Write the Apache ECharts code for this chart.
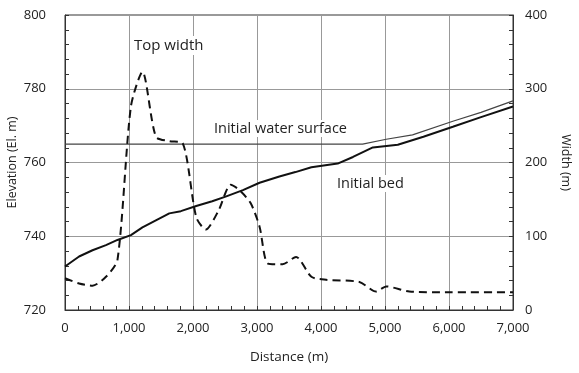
<!DOCTYPE html>
<html>
<head>
<meta charset="utf-8">
<script src="https://cdn.jsdelivr.net/npm/echarts@6/dist/echarts.min.js"></script>
<style>
  html, body { margin: 0; padding: 0; background: #fff; }
  #chart { width: 579px; height: 373px; }
</style>
</head>
<body>
<div id="chart"></div>
<script>
// initial bed profile
var bedDist = [0, 220, 430, 640, 820, 1030, 1210, 1420, 1630, 1810, 2050, 2300, 2520, 2780, 3040, 3350, 3600, 3850, 4260, 4500, 4810, 5200, 5600, 6060, 6500, 7000]
var bedElev = [731.8, 734.5, 736.2, 737.6, 739.0, 740.3, 742.4, 744.3, 746.2, 746.8, 748.2, 749.5, 750.8, 752.5, 754.5, 756.2, 757.4, 758.7, 759.7, 761.5, 764.1, 764.8, 767.0, 769.7, 772.3, 775.2]

// initial water surface
var wsDist = [0, 4650, 5020, 5430, 6060, 6500, 7000]
var wsElev = [765, 765, 766.3, 767.5, 771.2, 773.6, 776.7]

// top width (right axis)
var widthDist = [0, 220, 430, 640, 820, 1030, 1210, 1420, 1630, 1840, 2050, 2200, 2400, 2590, 2720, 2900, 3040, 3170, 3400, 3610, 3850, 4080, 4600, 4860, 5020, 5380, 6000, 7000]
var widthVal = [43, 36, 33, 45, 68, 276, 323, 235, 229, 226, 126, 109, 135, 170, 163, 145, 113, 63, 62, 72, 45, 41, 38, 25, 32, 25, 24, 24]

function pairs(xs, ys) {
  return xs.map(function (x, i) { return [x, ys[i]] })
}

var font = 'Open Sans'
var chart = echarts.init(document.getElementById('chart'))
chart.setOption({
  animation: false,
  backgroundColor: '#fff',
  grid: {
    left: 65,
    right: 66,
    top: 15,
    bottom: 63,
    outerBoundsMode: 'none',
    containLabel: false,
    show: true,
    borderColor: '#333',
    borderWidth: 1
  },
  xAxis: {
    type: 'value',
    min: 0,
    max: 7000,
    interval: 1000,
    name: 'Distance (m)',
    nameLocation: 'middle',
    nameGap: 40,
    nameTextStyle: { fontFamily: font, fontSize: 13.5, color: '#222' },
    axisLine: { lineStyle: { color: '#333' } },
    axisTick: { inside: true, length: 4, lineStyle: { color: '#333' } },
    minorTick: { show: true, splitNumber: 5, length: 4, lineStyle: { color: '#333' } },
    splitLine: { show: true, lineStyle: { color: '#999', width: 1 } },
    axisLabel: {
      fontFamily: font, fontSize: 13, color: '#222', margin: 12,
      formatter: function (v) { return v.toLocaleString('en-US') }
    }
  },
  yAxis: [{
    type: 'value',
    min: 720,
    max: 800,
    interval: 20,
    name: 'Elevation (El. m)',
    nameLocation: 'middle',
    nameGap: 46,
    nameMoveOverlap: false,
    nameTextStyle: { fontFamily: font, fontSize: 12.5, color: '#222' },
    axisLine: { show: true, lineStyle: { color: '#333' } },
    axisTick: { show: true, inside: true, length: 4, lineStyle: { color: '#333' } },
    minorTick: { show: true, splitNumber: 5, length: 4, lineStyle: { color: '#333' } },
    splitLine: { show: true, lineStyle: { color: '#999', width: 1 } },
    axisLabel: { fontFamily: font, fontSize: 13, color: '#222', margin: 19 }
  }, {
    type: 'value',
    min: 0,
    max: 400,
    interval: 100,
    name: 'Width (m)',
    nameLocation: 'middle',
    nameGap: 46,
    nameMoveOverlap: false,
    nameRotate: -90,
    nameTextStyle: { fontFamily: font, fontSize: 12.5, color: '#222' },
    axisLine: { show: true, lineStyle: { color: '#333' } },
    axisTick: { show: true, inside: true, length: 4, lineStyle: { color: '#333' } },
    minorTick: { show: true, splitNumber: 5, length: 4, lineStyle: { color: '#333' } },
    splitLine: { show: false },
    axisLabel: { fontFamily: font, fontSize: 13, color: '#222', margin: 12 }
  }],
  graphic: [
    { type: 'text', left: 131, top: 36, z: 10, style: { text: 'Top width', font: '15px "Open Sans"', fill: '#222', backgroundColor: '#fff', padding: [2, 3] } },
    { type: 'text', left: 211, top: 120, z: 10, style: { text: 'Initial water surface', font: '14.5px "Open Sans"', fill: '#222', backgroundColor: '#fff', padding: [1, 3] } },
    { type: 'text', left: 334, top: 175, z: 10, style: { text: 'Initial bed', font: '14.5px "Open Sans"', fill: '#222', backgroundColor: '#fff', padding: [1, 3] } }
  ],
  series: [{
    name: 'Initial water surface',
    type: 'line',
    data: pairs(wsDist, wsElev),
    showSymbol: false,
    lineStyle: { color: '#444', width: 1.2 }
  }, {
    name: 'Initial bed',
    type: 'line',
    data: pairs(bedDist, bedElev),
    showSymbol: false,
    lineStyle: { color: '#111', width: 2 }
  }, {
    name: 'Top width',
    type: 'line',
    yAxisIndex: 1,
    data: pairs(widthDist, widthVal),
    showSymbol: false,
    smooth: 0.25,
    lineStyle: { color: '#111', width: 2, type: [8, 5] }
  }]
})
</script>
</body>
</html>
